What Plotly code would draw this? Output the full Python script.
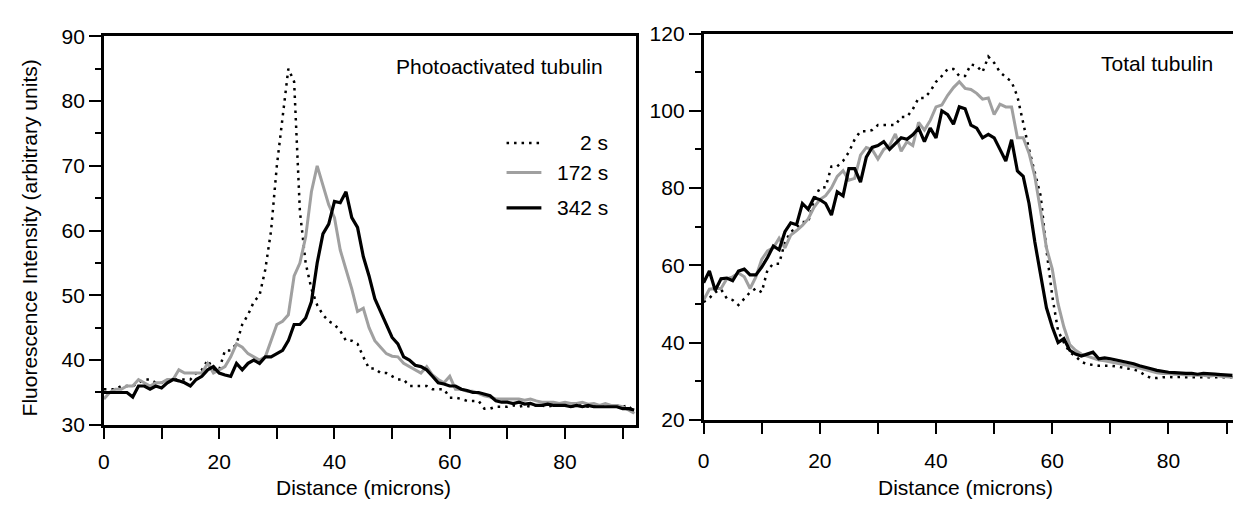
import plotly.graph_objects as go

# ---------------- data ----------------
dist_left = list(range(0, 93))   # microns, 1-micron steps
dist_right = list(range(0, 92))

photo_2s = [35.5, 35.5, 35.5, 36, 36, 36, 36.5, 37, 37, 36.5,
            36.5, 36.5, 37, 37, 37, 37, 38, 38.5, 40, 38.5,
            38.5, 41.5, 41.5, 42.5, 45.5, 47, 49, 50, 54, 60,
            70, 78, 85, 83, 63, 55, 51, 48.5, 47, 46,
            45.5, 44.5, 43, 43, 42.5, 40.5, 38.7, 38.7, 38, 38,
            37.5, 37, 37, 36, 36, 36, 36, 35.5, 35.5, 35.5,
            34.2, 34.2, 34, 33.7, 33.7, 33.7, 32.5, 32.5, 32.8, 32.8,
            32.8, 33, 32.8, 33, 32.8, 33, 33, 32.8, 33, 33,
            33, 32.8, 33, 33, 32.8, 33, 33, 32.8, 33, 33,
            32.8, 33, 31.8]
photo_172s = [34, 35, 35.5, 35.5, 36, 36, 37, 36.5, 36, 36.5,
              36.5, 37, 37, 38.5, 38, 38, 38, 38, 39.5, 38,
              38.5, 39, 40.5, 42.5, 42, 41, 40.5, 40, 40.5, 43,
              45.5, 46, 47, 53, 55, 59, 66, 70, 67, 64,
              62, 57, 54, 51, 47.5, 48, 45, 43, 42, 41,
              40.6, 40.5, 39.5, 39, 38.5, 38, 39, 37.7, 37, 36.5,
              37.5, 35.5, 35.5, 35.2, 35.2, 34.8, 34.5, 34.3, 34, 34,
              34, 34, 34, 33.8, 34, 33.7, 33.5, 33.5, 33.5, 33.3,
              33.5, 33.3, 33.3, 33.5, 33.2, 33.3, 33, 33.3, 33, 33,
              32.8, 32.3, 31.8]
photo_342s = [35, 35, 35, 35, 35, 34.3, 36, 36, 35.5, 36,
              35.7, 36.5, 37, 36.8, 36.5, 36, 37, 37.5, 38.5, 39,
              38, 37.7, 37.5, 39.5, 38.5, 39.5, 40, 39.5, 40.5, 40.5,
              41, 41.5, 43, 45.5, 45.5, 46.5, 49, 55, 59.5, 61,
              64.5, 64.3, 66, 62, 60.5, 56, 53, 49.5, 47.5, 45.5,
              43.5, 42.5, 40.5, 40, 39.2, 39, 38.5, 37.5, 36.5, 36.3,
              36, 36, 35.5, 35.3, 35, 35, 34.7, 34.5, 33.7, 33.5,
              33.5, 33.3, 33.5, 33.2, 33.3, 33, 33, 33.2, 33, 33,
              33, 32.8, 33, 32.8, 33, 32.8, 32.8, 32.7, 32.7, 32.8,
              32.5, 32.5, 32.3]

total_2s = [50.5, 51.5, 53, 53.8, 51.4, 51, 49.7, 51.4, 53, 54,
            53, 58.8, 60.4, 60.4, 66, 68.7, 69.5, 71.2, 71.2, 77,
            80, 80.2, 85.6, 85.6, 87, 89.3, 92.6, 94.7, 94.7, 95,
            96.3, 96.3, 96.3, 96.3, 98.4, 98.4, 100.4, 103.3, 103.3, 105,
            107.5, 109, 110.8, 110.8, 109, 109, 112, 111.6, 110, 114,
            112.4, 110, 108.7, 107.5, 103.7, 96.7, 90, 84, 78, 64,
            52, 43, 40, 37.5, 36.5, 35, 34.4, 34.2, 34, 34,
            34, 33.8, 33.5, 33.2, 33, 32.5, 31.5, 30.8, 30.8, 31,
            31.1, 31, 31.1, 31, 31, 31.1, 31, 31, 31, 31.1,
            31, 31]
total_172s = [51, 53.8, 54, 54, 56.5, 57, 58, 57, 54, 57,
              61.5, 63.7, 64.5, 67, 64.5, 67.8, 69, 70.3, 72, 75,
              77, 78, 80, 83, 84.5, 82, 82.5, 88.5, 90.5, 90,
              87.5, 90, 91, 94, 89.5, 92, 91, 97, 95, 97.5,
              101, 101.5, 104, 106, 107.5, 105.8, 105.5, 104.5, 103, 103.3,
              99, 101.7, 101, 101, 93, 93, 89, 83, 74, 64.5,
              59, 50, 44, 39.5, 38, 37, 36.5, 36, 35.5, 35.3,
              35, 34.8, 34.5, 34.2, 33.8, 33.4, 33, 32.6, 32.2, 32,
              32, 31.8, 31.8, 31.6, 31.6, 31.5, 31.5, 31.3, 31.5, 31.3,
              31.2, 31]
total_342s = [55.5, 58.5, 53.5, 56.5, 56.7, 56, 58.5, 59, 57.5, 57.5,
              59.5, 62, 65, 64, 68.7, 71, 70.5, 76, 74.5, 77.5,
              77, 76, 73, 79, 78, 85, 85, 81.5, 88, 90.5,
              91, 92, 90, 91.5, 93, 92.6, 93.8, 95.5, 92, 95.5,
              93, 100, 99, 96.5, 101, 100.5, 96.3, 95.5, 93, 93.9,
              93, 90, 87, 92.5, 84.4, 83, 76, 66, 57, 49,
              44, 40, 41, 38, 37, 36.5, 37, 37.5, 35.8, 36,
              35.8, 35.5, 35.2, 35, 34.5, 34, 33.5, 33.2, 32.8, 32.5,
              32.3, 32.2, 32, 32, 32, 31.8, 32, 31.8, 31.8, 31.7,
              31.5, 31.5]

series_names = ["2 s", "172 s", "342 s"]
x_tick_vals = [0, 20, 40, 60, 80]
x_tick_text = ["0", "20", "40", "60", "80"]

# ---------------- styling ----------------
W, H = 1233, 519
FONT = "Liberation Sans, Arial, Helvetica, sans-serif"
styles = [
    dict(color="black", width=2.5, dash="2.5px,5px"),
    dict(color="#a0a0a0", width=3, dash="solid"),
    dict(color="black", width=3.2, dash="solid"),
]


def px_x(p):
    return p / W


def px_y(p):
    return (H - p) / H


fig = go.Figure()
left_data = [photo_2s, photo_172s, photo_342s]
right_data = [total_2s, total_172s, total_342s]
for name, ys, st in zip(series_names, left_data, styles):
    fig.add_trace(go.Scatter(x=dist_left, y=ys, mode="lines", name=name,
                             line=st, xaxis="x", yaxis="y", showlegend=False))
for name, ys, st in zip(series_names, right_data, styles):
    fig.add_trace(go.Scatter(x=dist_right, y=ys, mode="lines", name=name,
                             line=st, xaxis="x2", yaxis="y2", showlegend=False))

axis_common = dict(showgrid=False, zeroline=False, showline=True,
                   linecolor="black", linewidth=2.5, ticks="outside",
                   tickcolor="black", tickwidth=2,
                   tickfont=dict(family=FONT, size=21, color="black"))

fig.update_layout(
    width=W, height=H,
    margin=dict(l=0, r=0, t=0, b=0),
    paper_bgcolor="white", plot_bgcolor="white",
    font=dict(family=FONT, size=21, color="black"),
    showlegend=False,
    xaxis=dict(domain=[px_x(98.4), px_x(633)], range=[0, 92.3],
               tickvals=x_tick_vals, ticktext=x_tick_text, ticklen=11,
               minor=dict(dtick=10, tick0=0, ticklen=11, tickwidth=2,
                          ticks="outside", tickcolor="black"),
               mirror=True, anchor="y", ticklabelstandoff=5, **axis_common),
    yaxis=dict(domain=[px_y(432), px_y(25.5)], range=[30, 90],
               dtick=10, ticklen=12,
               minor=dict(dtick=5, ticklen=6, tickwidth=2,
                          ticks="outside", tickcolor="black"),
               mirror=True, anchor="x", **axis_common),
    xaxis2=dict(domain=[px_x(701), 1.0], range=[0, 91.1],
                tickvals=x_tick_vals, ticktext=x_tick_text, ticklen=11,
                minor=dict(dtick=10, tick0=0, ticklen=11, tickwidth=2,
                           ticks="outside", tickcolor="black"),
                mirror=True, anchor="y2", ticklabelstandoff=9, **axis_common),
    yaxis2=dict(domain=[px_y(426.7), px_y(22.5)], range=[20, 120],
                dtick=20, ticklen=12,
                minor=dict(dtick=10, ticklen=6, tickwidth=2,
                           ticks="outside", tickcolor="black"),
                mirror=False, anchor="x2", **axis_common),
)

ann_font = dict(family=FONT, size=21, color="black")
annotations = [
    dict(text="Photoactivated tubulin", x=px_x(602), y=px_y(57), xref="paper",
         yref="paper", xanchor="right", yanchor="middle", showarrow=False, font=ann_font),
    dict(text="Total tubulin", x=px_x(1215), y=px_y(54), xref="paper",
         yref="paper", xanchor="right", yanchor="middle", showarrow=False, font=ann_font),
    dict(text="Distance (microns)", x=45, y=px_y(498), xref="x", yref="paper",
         xanchor="center", yanchor="middle", showarrow=False, font=ann_font),
    dict(text="Distance (microns)", x=45, y=px_y(498), xref="x2", yref="paper",
         xanchor="center", yanchor="middle", showarrow=False, font=ann_font),
    dict(text="Fluorescence Intensity (arbitrary units)", x=px_x(24), y=px_y(236),
         xref="paper", yref="paper", xanchor="center", yanchor="middle",
         textangle=-90, showarrow=False, font=ann_font),
]
# legend (text right-aligned, samples to the left)
legend_rows = [137, 168, 205]
for name, row, st in zip(series_names, legend_rows, styles):
    annotations.append(dict(text=name, x=px_x(607), y=px_y(row), xref="paper",
                            yref="paper", xanchor="right", yanchor="middle",
                            showarrow=False, font=ann_font))
    fig.add_shape(type="line", xref="paper", yref="paper",
                  x0=px_x(503), x1=px_x(538), y0=px_y(row), y1=px_y(row),
                  line=dict(color=st["color"], width=st["width"], dash=st["dash"]))
fig.update_layout(annotations=annotations)

fig.write_html(
    "out.html",
    config={"displayModeBar": False},
    post_script="document.body.style.margin='0px';"
                "document.body.style.overflow='hidden';",
)
